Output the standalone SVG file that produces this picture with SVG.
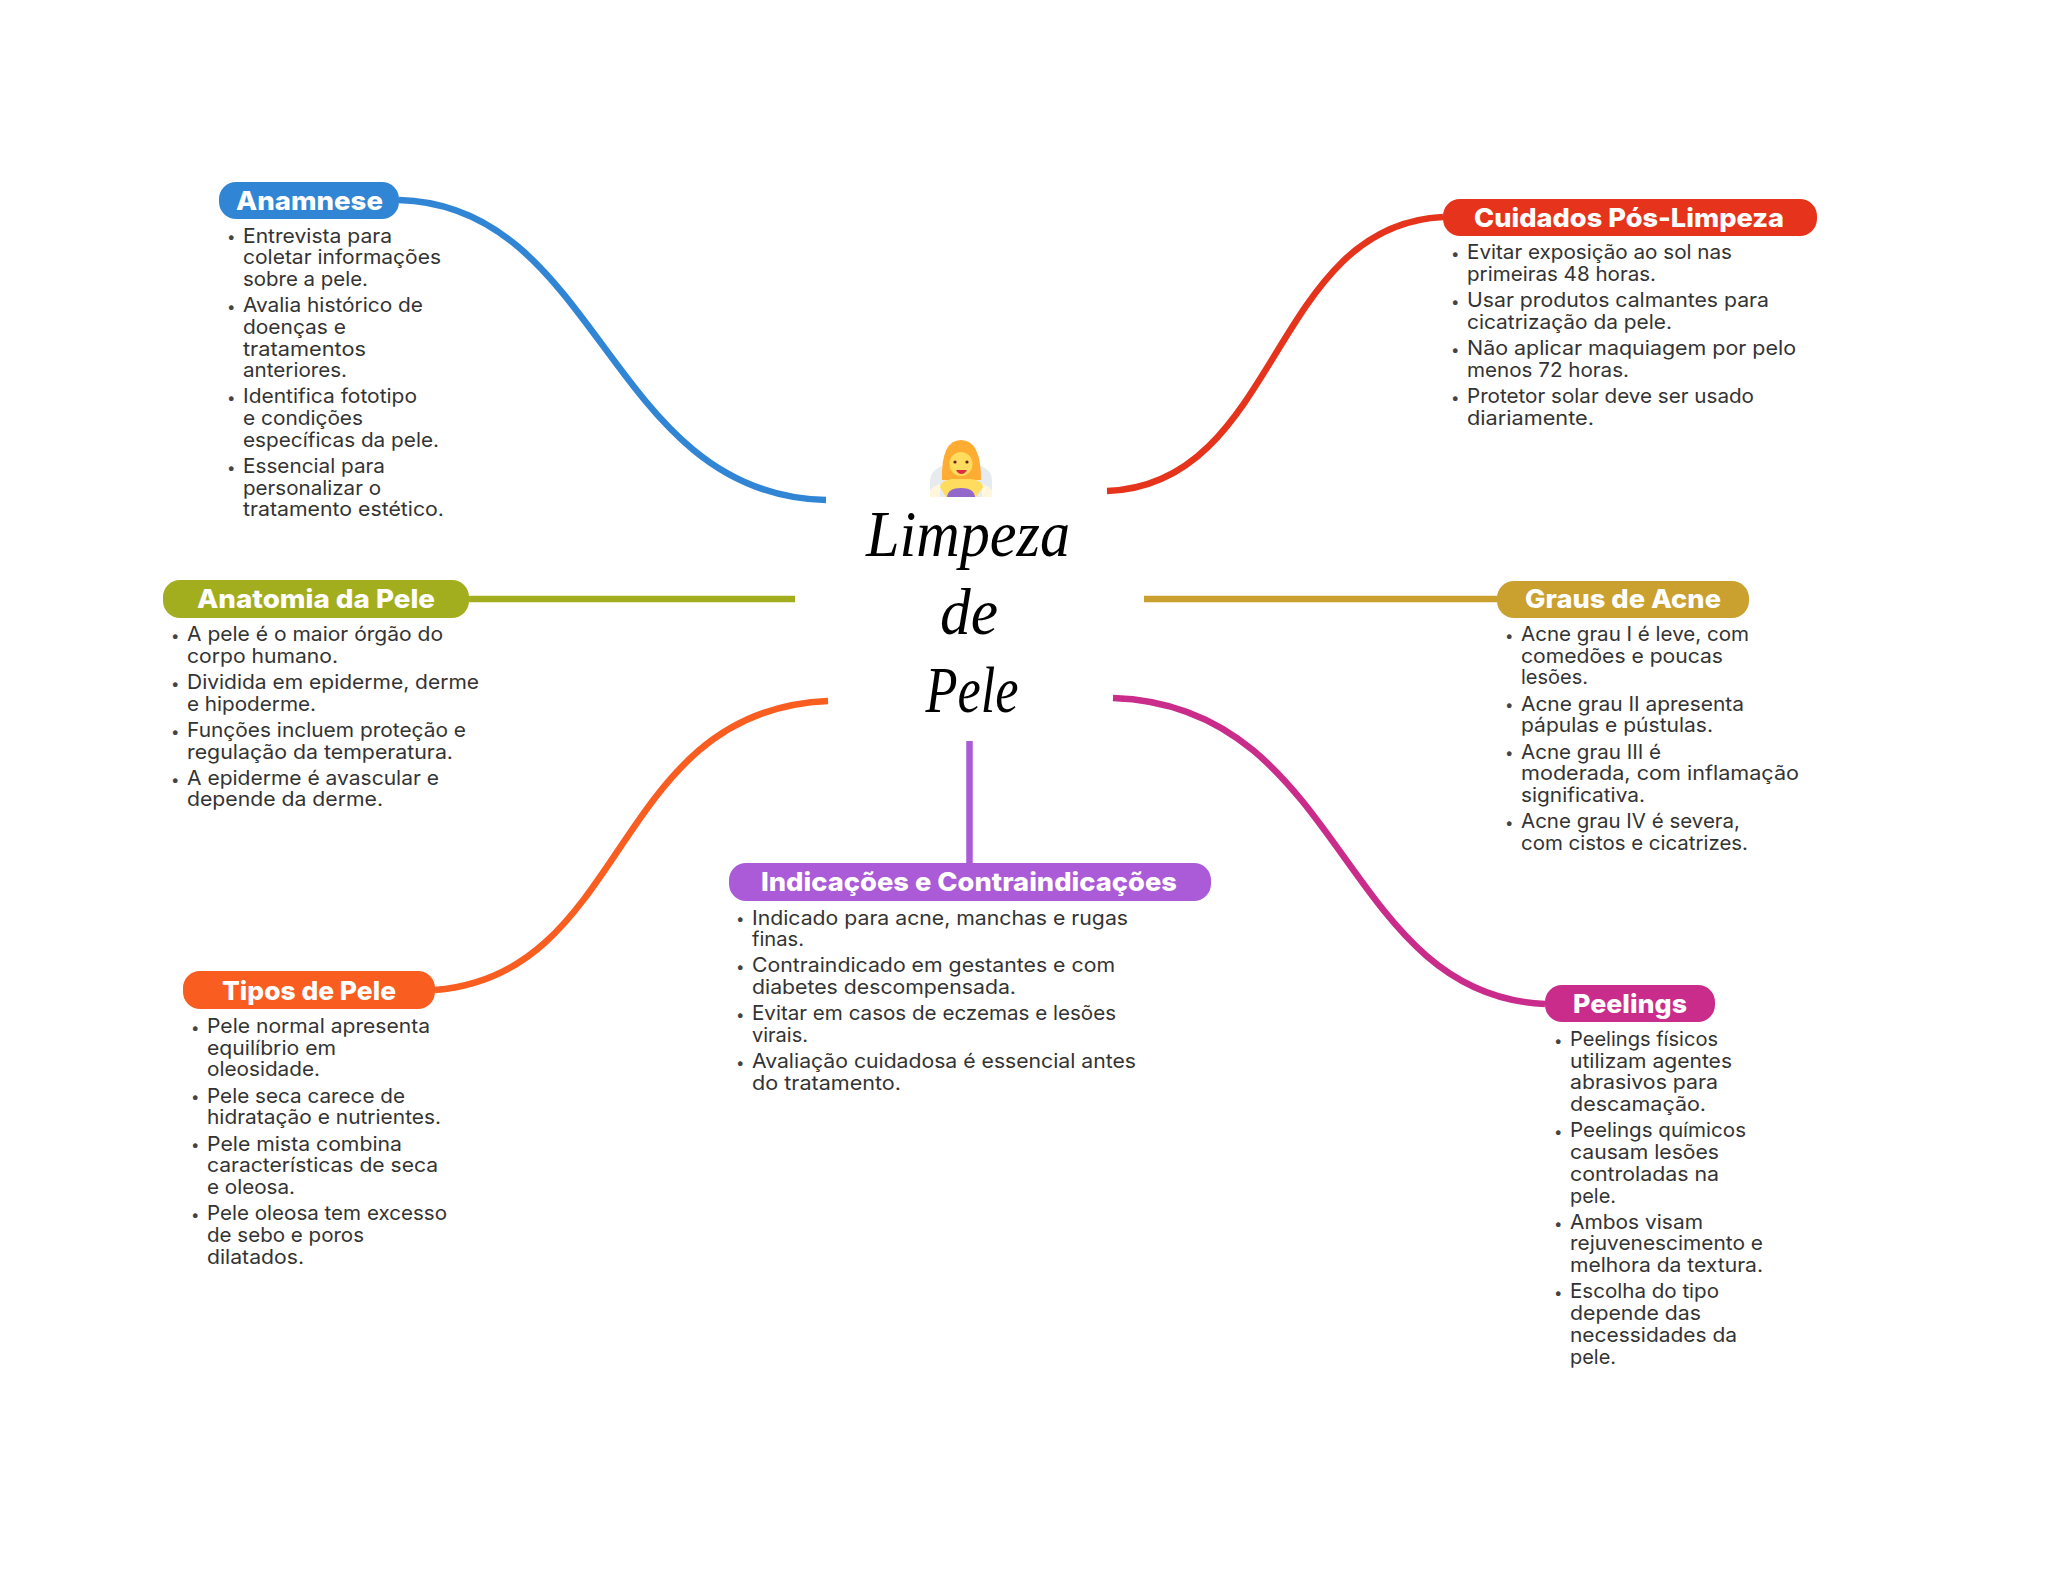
<svg xmlns="http://www.w3.org/2000/svg" width="2048" height="1569" viewBox="0 0 2048 1569">
<style>
.h{font-family:"Inter","Liberation Sans",sans-serif;font-weight:800;font-size:26px;fill:#fff}
.b{font-family:"Inter","Liberation Sans",sans-serif;font-size:20px;fill:#333}
.d{font-family:"Inter","Liberation Sans",sans-serif;font-size:15px;fill:#444}
.t{font-family:"Liberation Serif",serif;font-style:italic;font-size:66px;fill:#000;text-anchor:middle}
.c{fill:none;stroke-width:6.5}
</style>
<rect width="2048" height="1569" fill="#fff"/>
<g id="connectors">
<path class="c" stroke="#3185D5" d="M399 200C600 205 608 495 826 500"/>
<path class="c" stroke="#E5341B" d="M1443 217C1270 225 1280 485 1107 491"/>
<path class="c" stroke="#A3AE1E" d="M469 599H795"/>
<path class="c" stroke="#CAA02F" d="M1144 599H1497"/>
<path class="c" stroke="#F95D20" d="M435 990C630 975 610 710 828 701"/>
<path class="c" stroke="#C92C8B" d="M1113 698C1345 705 1340 995 1545 1004"/>
<path class="c" stroke="#AB5AD8" d="M969.500 741V863"/>
</g>
<g id="center">
<g id="emoji">
<path d="M930 497V480Q931 470 942 466H981Q992 470 992 480V497Z" fill="#E6EBEF"/>
<path d="M982 497V484Q988 486 992 490V497ZM940 497V484Q934 486 930 490V497Z" fill="#FFF6DC"/>
<path d="M942 480Q941 440 961 440Q981 440 981 480Z" fill="#FFAC33"/>
<ellipse cx="961" cy="464" rx="11.500" ry="12" fill="#FFDC5D"/>
<path d="M940 487Q941 480 952 479H971Q982 480 983 487L976 497H946Z" fill="#FFDC5D"/>
<path d="M947 497Q948 488 961 488Q974 488 975 497Z" fill="#9268CA"/>
<path d="M956 470H967Q965 474 961.500 474Q958 474 956 470Z" fill="#DD2E44"/>
<circle cx="955" cy="462" r="1.600" fill="#662113"/>
<circle cx="967" cy="462" r="1.600" fill="#662113"/>
</g>
<text class="t" x="968" y="556" textLength="204" lengthAdjust="spacingAndGlyphs">Limpeza</text>
<text class="t" x="969" y="634" textLength="58" lengthAdjust="spacingAndGlyphs">de</text>
<text class="t" x="972" y="712" textLength="93" lengthAdjust="spacingAndGlyphs">Pele</text>
</g>
<g id="anamnese">
<rect x="219" y="182" width="180" height="37" rx="17" fill="#3185D5"/>
<text class="h" x="236" y="210" textLength="147" lengthAdjust="spacingAndGlyphs">Anamnese</text>
<text class="d" x="227" y="242">•</text><text class="b" x="243" y="242.500" textLength="149" lengthAdjust="spacingAndGlyphs">Entrevista para</text>
<text class="b" x="243" y="264.200" textLength="198" lengthAdjust="spacingAndGlyphs">coletar informações</text>
<text class="b" x="243" y="285.900" textLength="125" lengthAdjust="spacingAndGlyphs">sobre a pele.</text>
<text class="d" x="227" y="312">•</text><text class="b" x="243" y="312.100" textLength="180" lengthAdjust="spacingAndGlyphs">Avalia histórico de</text>
<text class="b" x="243" y="333.800" textLength="103" lengthAdjust="spacingAndGlyphs">doenças e</text>
<text class="b" x="243" y="355.500" textLength="123" lengthAdjust="spacingAndGlyphs">tratamentos</text>
<text class="b" x="243" y="377.200" textLength="104" lengthAdjust="spacingAndGlyphs">anteriores.</text>
<text class="d" x="227" y="403">•</text><text class="b" x="243" y="403.400" textLength="174" lengthAdjust="spacingAndGlyphs">Identifica fototipo</text>
<text class="b" x="243" y="425.100" textLength="120" lengthAdjust="spacingAndGlyphs">e condições</text>
<text class="b" x="243" y="446.800" textLength="196" lengthAdjust="spacingAndGlyphs">específicas da pele.</text>
<text class="d" x="227" y="473">•</text><text class="b" x="243" y="473" textLength="142" lengthAdjust="spacingAndGlyphs">Essencial para</text>
<text class="b" x="243" y="494.700" textLength="138" lengthAdjust="spacingAndGlyphs">personalizar o</text>
<text class="b" x="243" y="516.400" textLength="201" lengthAdjust="spacingAndGlyphs">tratamento estético.</text>
</g>
<g id="cuidados">
<rect x="1443" y="199" width="374" height="37" rx="17" fill="#E5341B"/>
<text class="h" x="1474" y="226.500" textLength="310" lengthAdjust="spacingAndGlyphs">Cuidados Pós-Limpeza</text>
<text class="d" x="1451" y="259">•</text><text class="b" x="1467" y="259" textLength="265" lengthAdjust="spacingAndGlyphs">Evitar exposição ao sol nas</text>
<text class="b" x="1467" y="280.700" textLength="189" lengthAdjust="spacingAndGlyphs">primeiras 48 horas.</text>
<text class="d" x="1451" y="306.500">•</text><text class="b" x="1467" y="306.900" textLength="302" lengthAdjust="spacingAndGlyphs">Usar produtos calmantes para</text>
<text class="b" x="1467" y="328.600" textLength="205" lengthAdjust="spacingAndGlyphs">cicatrização da pele.</text>
<text class="d" x="1451" y="354.500">•</text><text class="b" x="1467" y="354.800" textLength="329" lengthAdjust="spacingAndGlyphs">Não aplicar maquiagem por pelo</text>
<text class="b" x="1467" y="376.500" textLength="162" lengthAdjust="spacingAndGlyphs">menos 72 horas.</text>
<text class="d" x="1451" y="402.500">•</text><text class="b" x="1467" y="402.700" textLength="287" lengthAdjust="spacingAndGlyphs">Protetor solar deve ser usado</text>
<text class="b" x="1467" y="424.900" textLength="127" lengthAdjust="spacingAndGlyphs">diariamente.</text>
</g>
<g id="anatomia">
<rect x="163" y="580" width="306" height="38" rx="17" fill="#A3AE1E"/>
<text class="h" x="197" y="607.500" textLength="238" lengthAdjust="spacingAndGlyphs">Anatomia da Pele</text>
<text class="d" x="171" y="640.500">•</text><text class="b" x="187" y="641" textLength="256" lengthAdjust="spacingAndGlyphs">A pele é o maior órgão do</text>
<text class="b" x="187" y="662.700" textLength="151" lengthAdjust="spacingAndGlyphs">corpo humano.</text>
<text class="d" x="171" y="688.500">•</text><text class="b" x="187" y="688.900" textLength="292" lengthAdjust="spacingAndGlyphs">Dividida em epiderme, derme</text>
<text class="b" x="187" y="710.600" textLength="129" lengthAdjust="spacingAndGlyphs">e hipoderme.</text>
<text class="d" x="171" y="736.500">•</text><text class="b" x="187" y="736.800" textLength="279" lengthAdjust="spacingAndGlyphs">Funções incluem proteção e</text>
<text class="b" x="187" y="758.500" textLength="266" lengthAdjust="spacingAndGlyphs">regulação da temperatura.</text>
<text class="d" x="171" y="784.500">•</text><text class="b" x="187" y="784.700" textLength="252" lengthAdjust="spacingAndGlyphs">A epiderme é avascular e</text>
<text class="b" x="187" y="806.400" textLength="196" lengthAdjust="spacingAndGlyphs">depende da derme.</text>
</g>
<g id="graus">
<rect x="1497" y="581" width="252" height="37" rx="17" fill="#CAA02F"/>
<text class="h" x="1525" y="608" textLength="196" lengthAdjust="spacingAndGlyphs">Graus de Acne</text>
<text class="d" x="1505" y="640.500">•</text><text class="b" x="1521" y="641" textLength="228" lengthAdjust="spacingAndGlyphs">Acne grau I é leve, com</text>
<text class="b" x="1521" y="662.700" textLength="202" lengthAdjust="spacingAndGlyphs">comedões e poucas</text>
<text class="b" x="1521" y="684.400" textLength="67" lengthAdjust="spacingAndGlyphs">lesões.</text>
<text class="d" x="1505" y="710">•</text><text class="b" x="1521" y="710.600" textLength="223" lengthAdjust="spacingAndGlyphs">Acne grau II apresenta</text>
<text class="b" x="1521" y="732.300" textLength="192" lengthAdjust="spacingAndGlyphs">pápulas e pústulas.</text>
<text class="d" x="1505" y="758">•</text><text class="b" x="1521" y="758.500" textLength="140" lengthAdjust="spacingAndGlyphs">Acne grau III é</text>
<text class="b" x="1521" y="780.200" textLength="278" lengthAdjust="spacingAndGlyphs">moderada, com inflamação</text>
<text class="b" x="1521" y="801.900" textLength="124" lengthAdjust="spacingAndGlyphs">significativa.</text>
<text class="d" x="1505" y="828">•</text><text class="b" x="1521" y="828.100" textLength="219" lengthAdjust="spacingAndGlyphs">Acne grau IV é severa,</text>
<text class="b" x="1521" y="849.800" textLength="227" lengthAdjust="spacingAndGlyphs">com cistos e cicatrizes.</text>
</g>
<g id="indicacoes">
<rect x="729" y="863" width="482" height="38" rx="17" fill="#AB5AD8"/>
<text class="h" x="761" y="890.500" textLength="416" lengthAdjust="spacingAndGlyphs">Indicações e Contraindicações</text>
<text class="d" x="736" y="924">•</text><text class="b" x="752" y="924.500" textLength="376" lengthAdjust="spacingAndGlyphs">Indicado para acne, manchas e rugas</text>
<text class="b" x="752" y="946.200" textLength="52" lengthAdjust="spacingAndGlyphs">finas.</text>
<text class="d" x="736" y="972">•</text><text class="b" x="752" y="972.400" textLength="363" lengthAdjust="spacingAndGlyphs">Contraindicado em gestantes e com</text>
<text class="b" x="752" y="994.100" textLength="264" lengthAdjust="spacingAndGlyphs">diabetes descompensada.</text>
<text class="d" x="736" y="1020">•</text><text class="b" x="752" y="1020.300" textLength="364" lengthAdjust="spacingAndGlyphs">Evitar em casos de eczemas e lesões</text>
<text class="b" x="752" y="1042" textLength="56" lengthAdjust="spacingAndGlyphs">virais.</text>
<text class="d" x="736" y="1068">•</text><text class="b" x="752" y="1068.200" textLength="384" lengthAdjust="spacingAndGlyphs">Avaliação cuidadosa é essencial antes</text>
<text class="b" x="752" y="1090.400" textLength="149" lengthAdjust="spacingAndGlyphs">do tratamento.</text>
</g>
<g id="tipos">
<rect x="183" y="971" width="252" height="38" rx="17" fill="#F95D20"/>
<text class="h" x="222" y="1000" textLength="174" lengthAdjust="spacingAndGlyphs">Tipos de Pele</text>
<text class="d" x="191" y="1032.500">•</text><text class="b" x="207" y="1033" textLength="223" lengthAdjust="spacingAndGlyphs">Pele normal apresenta</text>
<text class="b" x="207" y="1054.700" textLength="129" lengthAdjust="spacingAndGlyphs">equilíbrio em</text>
<text class="b" x="207" y="1076.400" textLength="113" lengthAdjust="spacingAndGlyphs">oleosidade.</text>
<text class="d" x="191" y="1102">•</text><text class="b" x="207" y="1102.600" textLength="198" lengthAdjust="spacingAndGlyphs">Pele seca carece de</text>
<text class="b" x="207" y="1124.300" textLength="234" lengthAdjust="spacingAndGlyphs">hidratação e nutrientes.</text>
<text class="d" x="191" y="1150">•</text><text class="b" x="207" y="1150.500" textLength="195" lengthAdjust="spacingAndGlyphs">Pele mista combina</text>
<text class="b" x="207" y="1172.200" textLength="231" lengthAdjust="spacingAndGlyphs">características de seca</text>
<text class="b" x="207" y="1193.900" textLength="88" lengthAdjust="spacingAndGlyphs">e oleosa.</text>
<text class="d" x="191" y="1220">•</text><text class="b" x="207" y="1220.100" textLength="240" lengthAdjust="spacingAndGlyphs">Pele oleosa tem excesso</text>
<text class="b" x="207" y="1241.800" textLength="157" lengthAdjust="spacingAndGlyphs">de sebo e poros</text>
<text class="b" x="207" y="1263.500" textLength="97" lengthAdjust="spacingAndGlyphs">dilatados.</text>
</g>
<g id="peelings">
<rect x="1545" y="985" width="170" height="37" rx="17" fill="#C92C8B"/>
<text class="h" x="1573" y="1013" textLength="114" lengthAdjust="spacingAndGlyphs">Peelings</text>
<text class="d" x="1554" y="1045.500">•</text><text class="b" x="1570" y="1046" textLength="148" lengthAdjust="spacingAndGlyphs">Peelings físicos</text>
<text class="b" x="1570" y="1067.700" textLength="162" lengthAdjust="spacingAndGlyphs">utilizam agentes</text>
<text class="b" x="1570" y="1089.400" textLength="148" lengthAdjust="spacingAndGlyphs">abrasivos para</text>
<text class="b" x="1570" y="1111.100" textLength="136" lengthAdjust="spacingAndGlyphs">descamação.</text>
<text class="d" x="1554" y="1137">•</text><text class="b" x="1570" y="1137.300" textLength="176" lengthAdjust="spacingAndGlyphs">Peelings químicos</text>
<text class="b" x="1570" y="1159" textLength="149" lengthAdjust="spacingAndGlyphs">causam lesões</text>
<text class="b" x="1570" y="1180.700" textLength="149" lengthAdjust="spacingAndGlyphs">controladas na</text>
<text class="b" x="1570" y="1203" textLength="46" lengthAdjust="spacingAndGlyphs">pele.</text>
<text class="d" x="1554" y="1228.500">•</text><text class="b" x="1570" y="1228.600" textLength="133" lengthAdjust="spacingAndGlyphs">Ambos visam</text>
<text class="b" x="1570" y="1250.300" textLength="193" lengthAdjust="spacingAndGlyphs">rejuvenescimento e</text>
<text class="b" x="1570" y="1272" textLength="193" lengthAdjust="spacingAndGlyphs">melhora da textura.</text>
<text class="d" x="1554" y="1298">•</text><text class="b" x="1570" y="1298.200" textLength="149" lengthAdjust="spacingAndGlyphs">Escolha do tipo</text>
<text class="b" x="1570" y="1319.900" textLength="131" lengthAdjust="spacingAndGlyphs">depende das</text>
<text class="b" x="1570" y="1341.600" textLength="167" lengthAdjust="spacingAndGlyphs">necessidades da</text>
<text class="b" x="1570" y="1364" textLength="46" lengthAdjust="spacingAndGlyphs">pele.</text>
</g>
</svg>
